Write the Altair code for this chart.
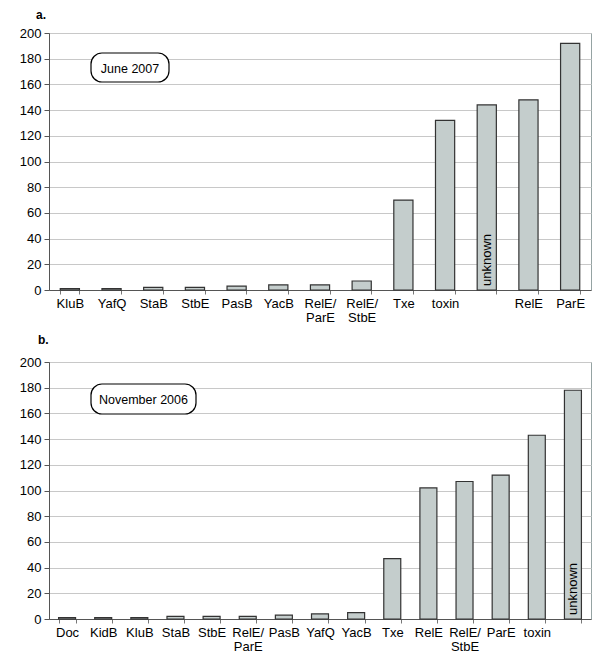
import altair as alt
import pandas as pd

# Panel a (June 2007)
cats_a = ["KluB", "YafQ", "StaB", "StbE", "PasB", "YacB", "RelE/ ParE", "RelE/ StbE",
          "Txe", "toxin", "unknown", "RelE", "ParE"]
vals_a = [1, 1, 2, 2, 3, 4, 4, 7, 70, 132, 144, 148, 192]

# Panel b (November 2006)
cats_b = ["Doc", "KidB", "KluB", "StaB", "StbE", "RelE/ ParE", "PasB", "YafQ", "YacB",
          "Txe", "RelE", "RelE/ StbE", "ParE", "toxin", "unknown"]
vals_b = [1, 1, 1, 2, 2, 2, 3, 4, 5, 47, 102, 107, 112, 143, 178]

y_ticks = list(range(0, 201, 20))

FONT = "Liberation Sans"
BAR_FILL = "#c4cdcc"


def panel(cats, vals, letter, boxlabel, box, letter_pos, pad_inner):
    df = pd.DataFrame({"cat": cats, "val": vals})
    base = alt.Chart(df)
    x = alt.X("cat:N", sort=cats, title=None,
              scale=alt.Scale(paddingInner=pad_inner, paddingOuter=pad_inner / 2),
              axis=alt.Axis(labelAngle=0, tickBand="extent", ticks=True, tickSize=4,
                            labelExpr="datum.label == 'unknown' ? '' : split(datum.label, ' ')",
                            labelFont=FONT, labelFontSize=13, labelColor="#000",
                            labelPadding=3, labelLineHeight=14, labelOverlap=False,
                            domainColor="#555", tickColor="#777", grid=False))
    yaxis = alt.Axis(values=y_ticks, grid=True, gridColor="#c8c8c8",
                     labelFont=FONT, labelFontSize=13, labelColor="#000",
                     labelOverlap=False,
                     domainColor="#555", tickColor="#555", tickSize=5,
                     labelPadding=3)
    yscale = alt.Scale(domain=[0, 200], nice=False)
    bars = base.mark_bar(fill=BAR_FILL, stroke="#333", strokeWidth=1.2).encode(
        x=x, y=alt.Y("val:Q", title=None, scale=yscale, axis=yaxis))
    unk = base.transform_filter("datum.cat == 'unknown'").transform_calculate(
        zero="0"
    ).mark_text(
        angle=270, align="left", baseline="middle", dx=4, font=FONT, fontSize=13, color="#000"
    ).encode(x=x, y=alt.Y("zero:Q", title=None, scale=yscale, axis=yaxis), text="cat:N")
    ann = pd.DataFrame({"label": [boxlabel], "letter": [letter]})
    bx0, bx1, by0, by1 = box
    rect = alt.Chart(ann).mark_rect(fill="white", stroke="#000", strokeWidth=1.2,
                                    cornerRadius=11).encode(
        x=alt.value(bx0), x2=alt.value(bx1), y=alt.value(by0), y2=alt.value(by1))
    txt = alt.Chart(ann).mark_text(font=FONT, fontSize=12.5, color="#000",
                                   align="center", baseline="middle").encode(
        x=alt.value((bx0 + bx1) / 2), y=alt.value((by0 + by1) / 2 + 1), text="label:N")
    let = alt.Chart(ann).mark_text(font=FONT, fontSize=12, fontWeight="bold", color="#000",
                                   align="left", baseline="middle").encode(
        x=alt.value(letter_pos[0]), y=alt.value(letter_pos[1]), text="letter:N")
    return alt.layer(bars, unk, rect, txt, let).properties(width=542, height=257)


pa = panel(cats_a, vals_a, "a.", "June 2007", (42, 120, 20, 49), (-13, -18), 0.54)
pb = panel(cats_b, vals_b, "b.", "November 2006", (42, 147, 22, 52), (-11, -22), 0.53)

chart = alt.vconcat(pa, pb, spacing=8).configure_view(
    stroke="#95a3a3", strokeWidth=1
).properties(padding={"left": 10, "top": 0, "right": 0, "bottom": 0})

chart.save("out.html", embed_options={"renderer": "svg", "actions": False})
